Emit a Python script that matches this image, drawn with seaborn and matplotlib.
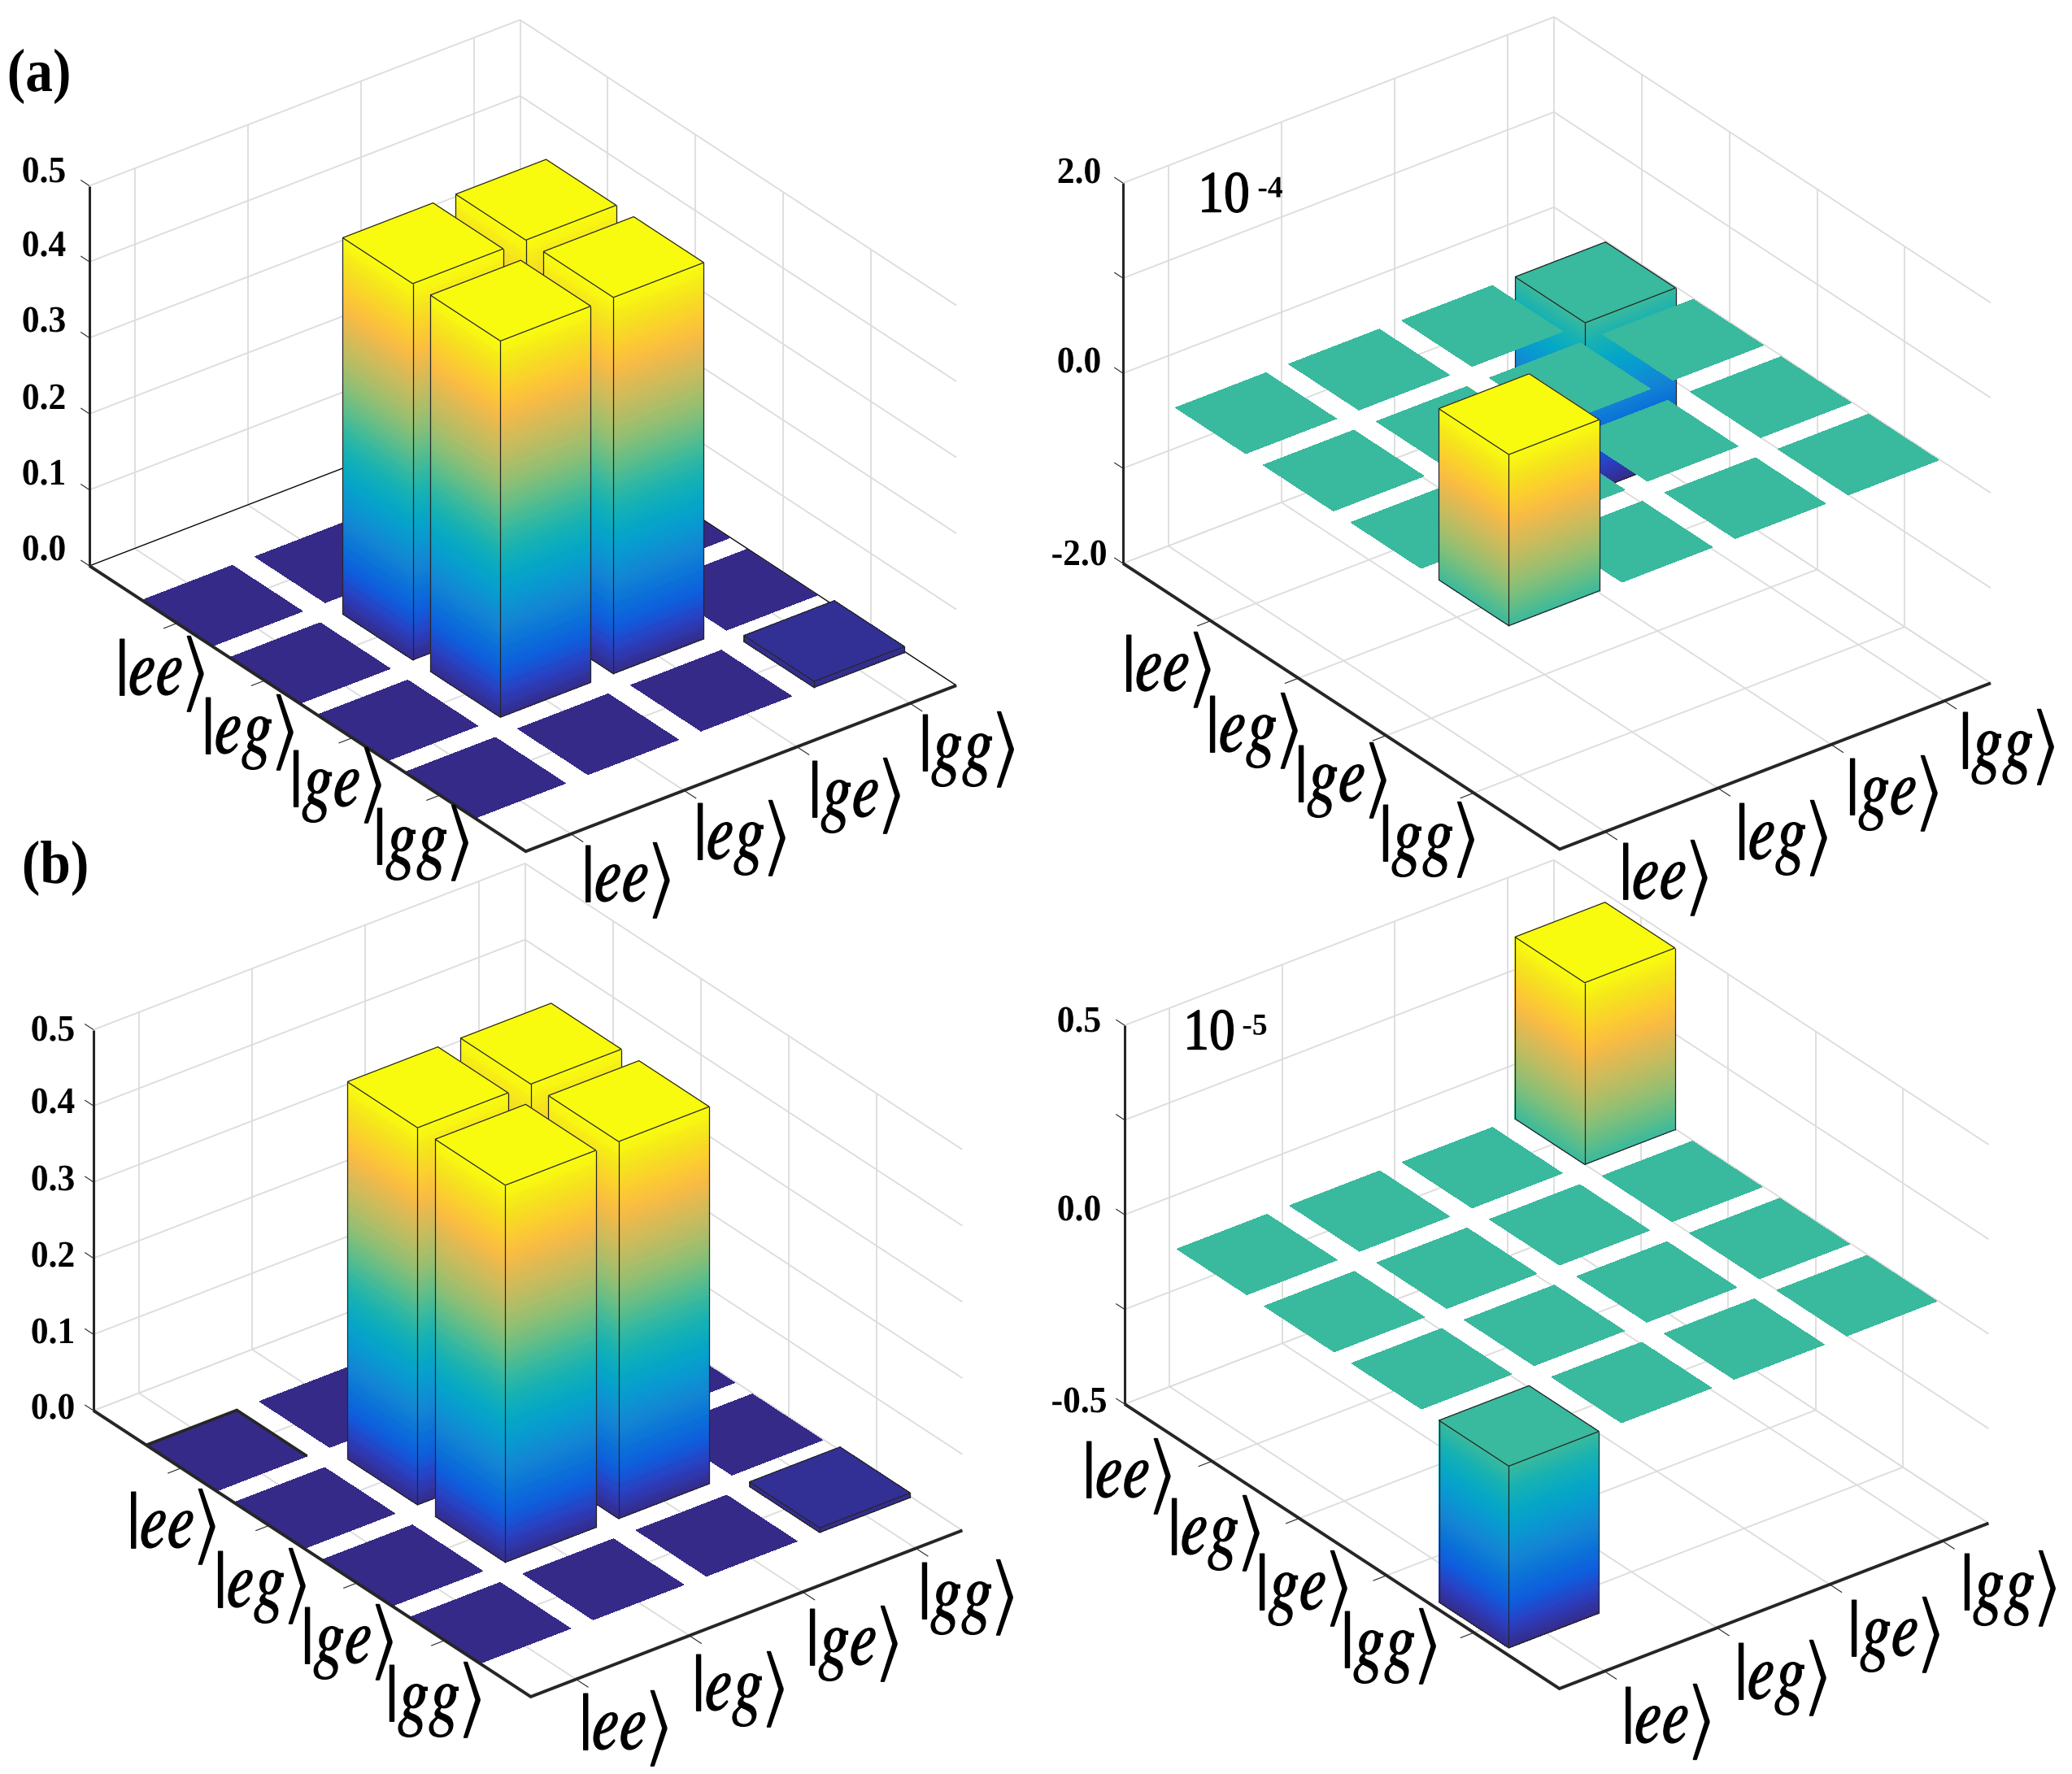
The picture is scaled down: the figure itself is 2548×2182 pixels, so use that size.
import numpy as np
import matplotlib
matplotlib.use("Agg")
import matplotlib.pyplot as plt
import matplotlib.patheffects as pe
from matplotlib.transforms import Affine2D
import seaborn as sns
from mpl_toolkits.mplot3d import proj3d
from mpl_toolkits.mplot3d.art3d import Poly3DCollection

# values, rows = x axis (ee..gg), columns = y axis (ee..gg)
states = ["ee", "eg", "ge", "gg"]
rho_a_left = [[0, 0, 0, 0],
              [0, 0.495, 0.495, 0],
              [0, 0.495, 0.495, 0],
              [0, 0, 0, 0.008]]
rho_a_right = [[0, 0, 0, -1.8],
               [0, 0, 0, 0],
               [0, 0, 0, 0],
               [1.8, 0, 0, 0]]
rho_b_left = [[0, 0, 0, 0],
              [0, 0.495, 0.495, 0],
              [0, 0.495, 0.495, 0],
              [0, 0, 0, 0.006]]
rho_b_right = [[0, 0, 0, 0.48],
               [0, 0, 0, 0],
               [0, 0, 0, 0],
               [-0.48, 0, 0, 0]]
zticks_left = [0.0, 0.1, 0.2, 0.3, 0.4, 0.5]
zlabels_left = ["0.0", "0.1", "0.2", "0.3", "0.4", "0.5"]
zticks_a_right = [-2, -1, 0, 1, 2]
zlabels_a_right = ["-2.0", "", "0.0", "", "2.0"]
zticks_b_right = [-0.5, -0.25, 0, 0.25, 0.5]
zlabels_b_right = ["-0.5", "", "0.0", "", "0.5"]

parula_anchors = ["#352a87", "#2b3ebf", "#0f5cdd", "#0b72d8", "#1485d4", "#0998d1",
                  "#06a7c6", "#15b1b4", "#38b99e", "#65be86", "#92bf73", "#b7bd64",
                  "#d9ba56", "#f8bb44", "#fcce2e", "#f5e41d", "#f9fb0e"]

W, H = 2548, 2182
XLIM = (0.0, 4.98)
YLIM = (0.6, 4.41)
BAR = 0.4
BOX = (882, 668, 541)
GRID = "#dcdcdc"
DARK = "#262626"

sns.set_theme(style="white")
plt.rcParams["font.family"] = ["Liberation Serif", "DejaVu Serif"]
plt.rcParams["mathtext.fontset"] = "stix"
palette = sns.blend_palette(parula_anchors, n_colors=129)

fig = plt.figure(figsize=(W / 100, H / 100), dpi=100, facecolor="white")


class Squeeze(pe.AbstractPathEffect):
    # the reference lettering is narrower than any installed font
    def __init__(self, cx, fx, stroke):
        super().__init__()
        self.cx, self.fx, self.stroke = cx, fx, stroke

    def draw_path(self, renderer, gc, tpath, affine, rgbFace=None):
        gc0 = renderer.new_gc()
        gc0.copy_properties(gc)
        gc0.set_foreground("black")
        gc0.set_linewidth(self.stroke)
        squeeze = Affine2D().translate(-self.cx, 0).scale(self.fx, 1).translate(self.cx, 0)
        renderer.draw_path(gc0, tpath, affine + squeeze, rgbFace)
        gc0.restore()


def label(px, py, s, size, bold=True, stroke=0.0, fx=1.0):
    t = fig.text(px / W, 1 - py / H, s, ha="center", va="center", fontsize=size,
                 fontweight="bold" if bold else "normal", color="black")
    t.set_path_effects([Squeeze(px, fx, stroke)])


def screen(ax, x, y, z):
    X, Y, _ = proj3d.proj_transform(x, y, z, ax.get_proj())
    return ax.transData.transform((X, Y))


def fit_axes(ax, left_px, front_px, zlim):
    # move and scale the axes so that the floor corners land where they are in the reference
    zoom = 1.0
    target0 = np.array([left_px[0], H - left_px[1]], float)
    target1 = np.array([front_px[0], H - front_px[1]], float)
    for _ in range(3):
        ax.set_box_aspect(BOX, zoom=zoom)
        ax.apply_aspect()
        p0 = screen(ax, XLIM[0], YLIM[0], zlim[0])
        p1 = screen(ax, XLIM[1], YLIM[0], zlim[0])
        zoom *= np.linalg.norm(target1 - target0) / np.linalg.norm(p1 - p0)
        ax.set_box_aspect(BOX, zoom=zoom)
        ax.apply_aspect()
        p0 = screen(ax, XLIM[0], YLIM[0], zlim[0])
        pos = ax.get_position(original=True)
        d = target0 - p0
        ax.set_position([pos.x0 + d[0] / W, pos.y0 + d[1] / H, pos.width, pos.height])


def draw_panel(left_px, front_px, rho, zlim, zticks, floor_edge=GRID, corner_edge=None):
    ax = fig.add_axes([0.1, 0.1, 0.55, 0.55], projection="3d", computed_zorder=False)
    ax.set_proj_type("ortho")
    ax.view_init(elev=30.15, azim=-37.5)
    ax.set_xlim(*XLIM, view_margin=0)
    ax.set_ylim(*YLIM, view_margin=0)
    ax.set_zlim(*zlim, view_margin=0)
    ax.set_axis_off()
    ax.patch.set_visible(False)
    fit_axes(ax, left_px, front_px, zlim)

    x0, x1 = XLIM
    y0, y1 = YLIM
    z0, z1 = zlim
    ticks = [1, 2, 3, 4]
    order = [1]

    def line(xs, ys, zs, color=GRID, lw=1.3):
        order[0] += 1
        ax.plot(xs, ys, zs, color=color, lw=lw, zorder=order[0], clip_on=False,
                solid_capstyle="butt", solid_joinstyle="miter")

    # walls and floor grid
    for t in ticks:
        line([t, t], [y0, y1], [z0, z0])
        line([t, t], [y1, y1], [z0, z1])
        line([x0, x1], [t, t], [z0, z0])
        line([x0, x0], [t, t], [z0, z1])
    for z in zticks:
        line([x0, x0, x1], [y0, y1, y1], [z, z, z])
    line([x0, x0], [y1, y1], [z0, z1])
    line([x0, x0, x1], [y0, y1, y1], [z0, z0, z0], color=floor_edge, lw=0.9)

    # bars, back to front
    lo, hi = np.min(rho), np.max(rho)

    def shade(z):
        return palette[int(round(np.clip((z - lo) / (hi - lo), 0, 1) * 128))]

    for i in range(4):
        for j in range(3, -1, -1):
            v = rho[i][j]
            xa, xb = i + 1 - BAR, i + 1 + BAR
            ya, yb = j + 1 - BAR, j + 1 + BAR
            faces, colors = [], []
            if v != 0:
                edges = np.linspace(0, v, 97)
                for a, b in zip(edges[:-1], edges[1:]):
                    c = shade((a + b) / 2)
                    faces.append([(xa, ya, a), (xb, ya, a), (xb, ya, b), (xa, ya, b)])
                    colors.append(c)
                    faces.append([(xb, ya, a), (xb, yb, a), (xb, yb, b), (xb, ya, b)])
                    colors.append(c)
            top = max(v, 0)
            faces.append([(xa, ya, top), (xb, ya, top), (xb, yb, top), (xa, yb, top)])
            colors.append(shade(top))
            order[0] += 1
            poly = Poly3DCollection(faces, facecolors=colors, edgecolors="none",
                                    linewidths=0, antialiased=False, zorder=order[0])
            poly.set_clip_on(False)
            ax.add_collection3d(poly, autolim=False)
            if v != 0:
                bottom = min(v, 0)
                line([xa, xb, xb, xa, xa], [ya, ya, yb, yb, ya], [top] * 5, color=DARK, lw=0.9)
                line([xa, xb, xb], [ya, ya, yb], [bottom] * 3, color=DARK, lw=0.9)
                line([xa, xa], [ya, ya], [bottom, top], color=DARK, lw=0.9)
                line([xb, xb], [ya, ya], [bottom, top], color=DARK, lw=0.9)
                line([xb, xb], [yb, yb], [bottom, top], color=DARK, lw=0.9)

    if corner_edge:
        xa, xb = 1 - BAR, 1 + BAR
        ya, yb = 1 - BAR, 1 + BAR
        line([xa, xa, xb], [ya, yb, yb], [0, 0, 0], color=DARK, lw=corner_edge)

    # axes in front
    for t in ticks:
        line([t, t], [y0, y0 - 0.12], [z0, z0], color=DARK, lw=0.8)
        line([x1, x1 + 0.14], [t, t], [z0, z0], color=DARK, lw=0.8)
    for z in zticks:
        line([x0, x0 - 0.1], [y0, y0], [z, z], color=DARK, lw=0.8)
    line([x0, x1, x1], [y0, y0, y1], [z0, z0, z0], color=DARK, lw=2.8)
    line([x0, x0], [y0, y0], [z0, z1], color=DARK, lw=2.2)
    return ax


def axis_text(xpos, ypos):
    for s, (px, py) in zip(states + states, xpos + ypos):
        label(px, py + 4, rf"$|{s}\rangle$", 72, bold=False, stroke=1.0, fx=0.76)


def z_text(px, pys, labels):
    for py, s in zip(pys, labels):
        if s:
            label(px, py, s, 33, fx=0.95)


# (a) left
draw_panel((110, 696), (646, 1048), rho_a_left, (0, 0.5), zticks_left, floor_edge="black")
axis_text([(197, 825), (305, 897), (413, 962), (518, 1033)],
          [(770, 1079), (910, 1027), (1051, 975), (1189, 918)])
z_text(54, [678, 585, 492, 397, 304, 213], zlabels_left)

# (a) right
draw_panel((1381, 693), (1917, 1046), rho_a_right, (-2, 2), zticks_a_right)
axis_text([(1435, 820), (1540, 895), (1649, 956), (1755, 1029)],
          [(2046, 1076), (2191, 1027), (2327, 972), (2468, 915)])
z_text(1327, [684, 0, 447, 0, 214], zlabels_a_right)
label(1505, 243, "10", 52, bold=False, stroke=1.0, fx=0.88)
label(1562, 233, "-4", 27)

# (b) left
draw_panel((115, 1735), (652, 2088), rho_b_left, (0, 0.5), zticks_left, corner_edge=2.6)
axis_text([(211, 1874), (320, 1947), (427, 2016), (533, 2087)],
          [(767, 2122), (908, 2074), (1048, 2018), (1188, 1961)])
z_text(65, [1734, 1641, 1547, 1453, 1358, 1269], zlabels_left)

# (b) right
draw_panel((1383, 1727), (1917, 2078), rho_b_right, (-0.5, 0.5), zticks_b_right)
axis_text([(1386, 1812), (1493, 1882), (1601, 1950), (1708, 2021)],
          [(2049, 2114), (2190, 2060), (2329, 2007), (2470, 1950)])
z_text(1327, [1726, 0, 1490, 0, 1258], zlabels_b_right)
label(1487, 1273, "10", 52, bold=False, stroke=1.0, fx=0.88)
label(1543, 1263, "-5", 27)

label(48, 94, "(a)", 54, fx=0.9)
label(68, 1068, "(b)", 54, fx=0.9)

fig.savefig("out.png", dpi=100, facecolor="white")
